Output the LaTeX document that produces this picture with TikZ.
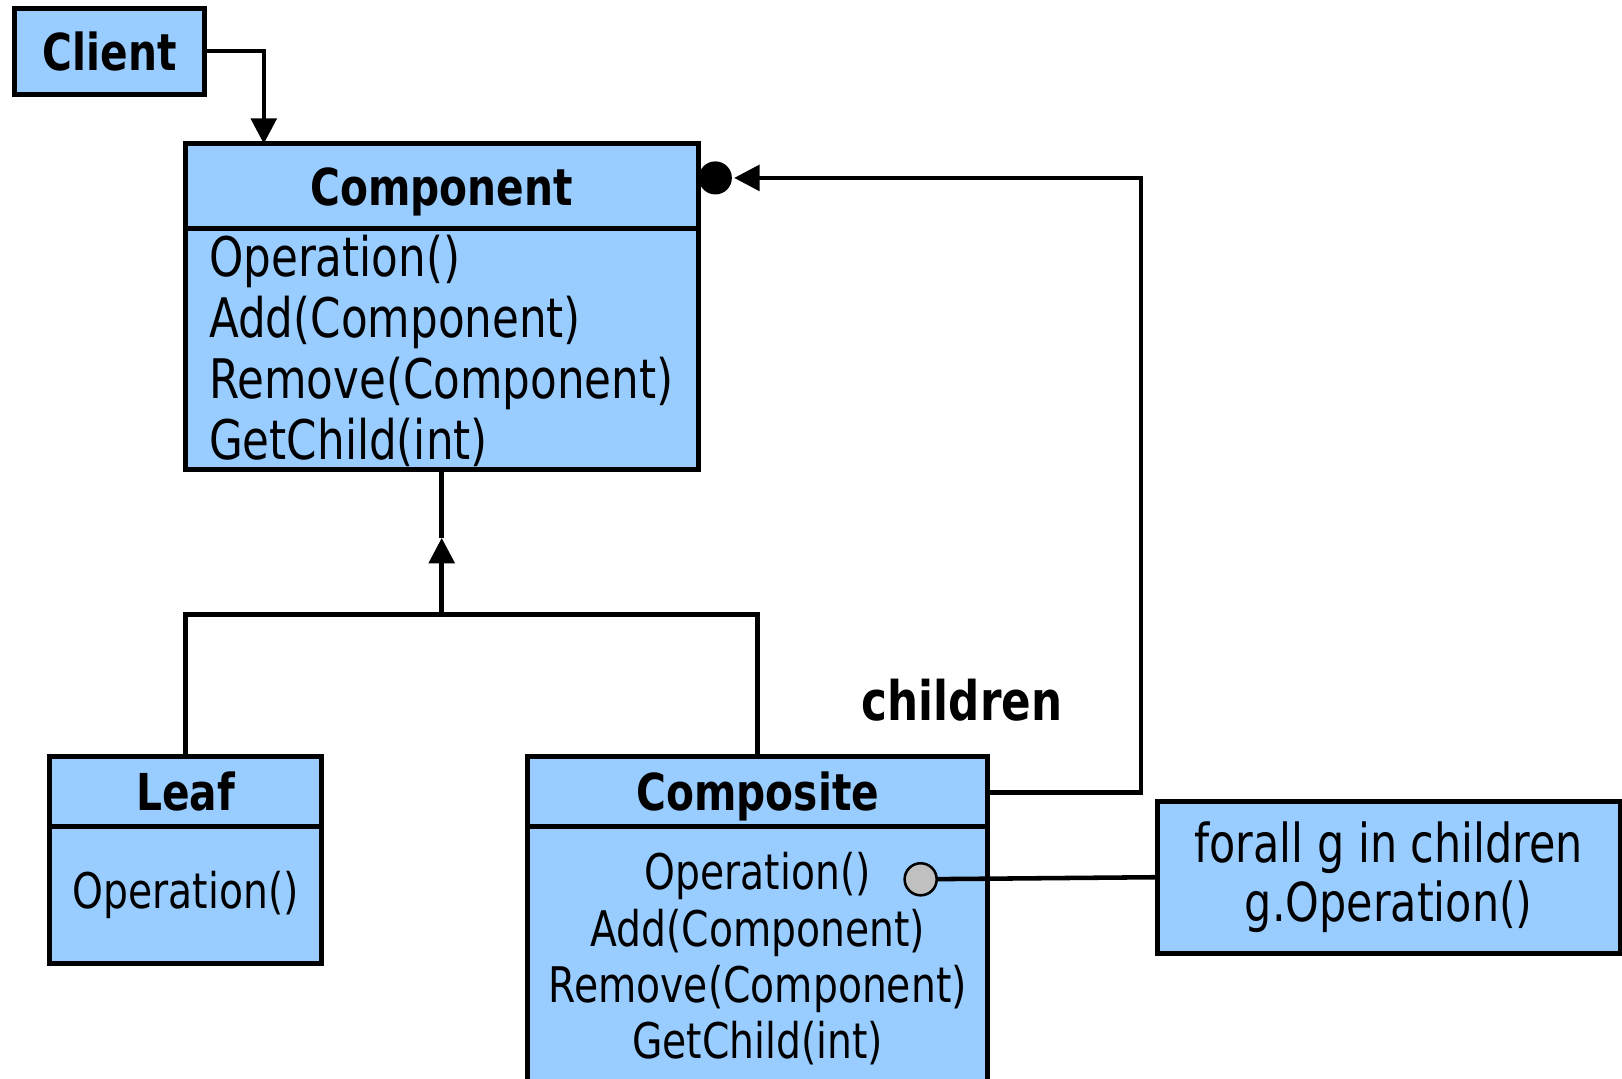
\documentclass[tikz,border=0pt]{standalone}
\usepackage{fontspec}
\setmainfont{DejaVu Sans}[FakeStretch=0.8]
\usepackage{tikz}
\usetikzlibrary{arrows.meta,positioning}

\definecolor{umlblue}{RGB}{153,204,255}
\definecolor{pingrey}{RGB}{192,192,192}

\begin{document}
\begin{tikzpicture}[
	> = {Triangle[length=14pt,width=14pt]},
	line width = 2.5pt,
	box/.style = {draw, fill=umlblue, line width=2.7pt, inner sep=0pt, outer sep=0pt},
	title/.style = {font=\fontsize{28}{32}\selectfont\bfseries, text depth=0pt},
	ops/.style = {font=\fontsize{27}{31}\selectfont, inner sep=0pt},
	pin/.style = {circle, draw, fill=pingrey, line width=1.4pt, minimum size=0.62cm, inner sep=0pt},
	blob/.style = {circle, fill=black, minimum size=0.64cm, inner sep=0pt}
	]
	\useasboundingbox (0,0) rectangle (31.36,20.86);
	\clip (0,0) rectangle (31.36,20.86);
	\node[box, title, minimum width=3.68cm, minimum height=1.66cm] (Client) at (2.12,19.87) {Client};
	% component class
	\node[box, title, minimum width=9.92cm, minimum height=1.64cm] (Comp) at (8.54,17.26) {Component};
	\node[box, minimum width=9.92cm, minimum height=4.66cm, below=0pt of Comp] (CompOps) {};
	\node[ops, font=\fontsize{30}{33.5}\selectfont, align=left, anchor=north west,
		below right=0.09cm and 0.42cm of Comp.south west] (CompTxt)
		{Operation()\\Add(Component)\\Remove(Component)\\GetChild(int)};
	% leaf class
	\node[box, title, minimum width=5.26cm, minimum height=1.36cm] (Leaf) at (3.59,5.56) {Leaf};
	\node[box, ops, minimum width=5.26cm, minimum height=2.64cm, below=0pt of Leaf] (LeafOps) {Operation()};
	% composite class
	\node[box, title, minimum width=8.90cm, minimum height=1.36cm] (Compo) at (14.65,5.56) {Composite};
	\node[box, minimum width=8.90cm, minimum height=5.6cm, below=0pt of Compo] (CompoOps) {};
	\node[ops, align=center, below=0.46cm of Compo.south] (CompoTxt)
		{Operation()\\Add(Component)\\Remove(Component)\\GetChild(int)};
	\node[pin] (Pin) at (17.80,3.86) {};
	% note
	\node[box, ops, font=\fontsize{29.5}{32}\selectfont, align=center, minimum width=8.94cm, minimum height=2.94cm] (Note) at (26.85,3.90)
		{forall g in children\\g.Operation()};
	\node[title, font=\fontsize{30}{34}\selectfont\bfseries] (Kids) at (18.60,7.33) {children};
	\node[blob] (Agg) at ([xshift=0.33cm,yshift=0.16cm]Comp.east) {};
	\coordinate (Fork) at (8.54,8.98);
	\coordinate (Tip) at (8.54,10.46);

	\draw[->] (Client.east) -| ([xshift=1.52cm]Comp.north west);
	\draw (Leaf.north) |- (Fork) -| (Compo.north);
	\draw[->] (Fork) -- (Tip);
	\draw (Tip) -- (CompOps.south);
	\draw[->] ([yshift=-0.02cm]Compo.east) -- ++(2.96,0) |- (Agg.east);
	\draw (Pin) -- (Note.west);
\end{tikzpicture}
\end{document}
